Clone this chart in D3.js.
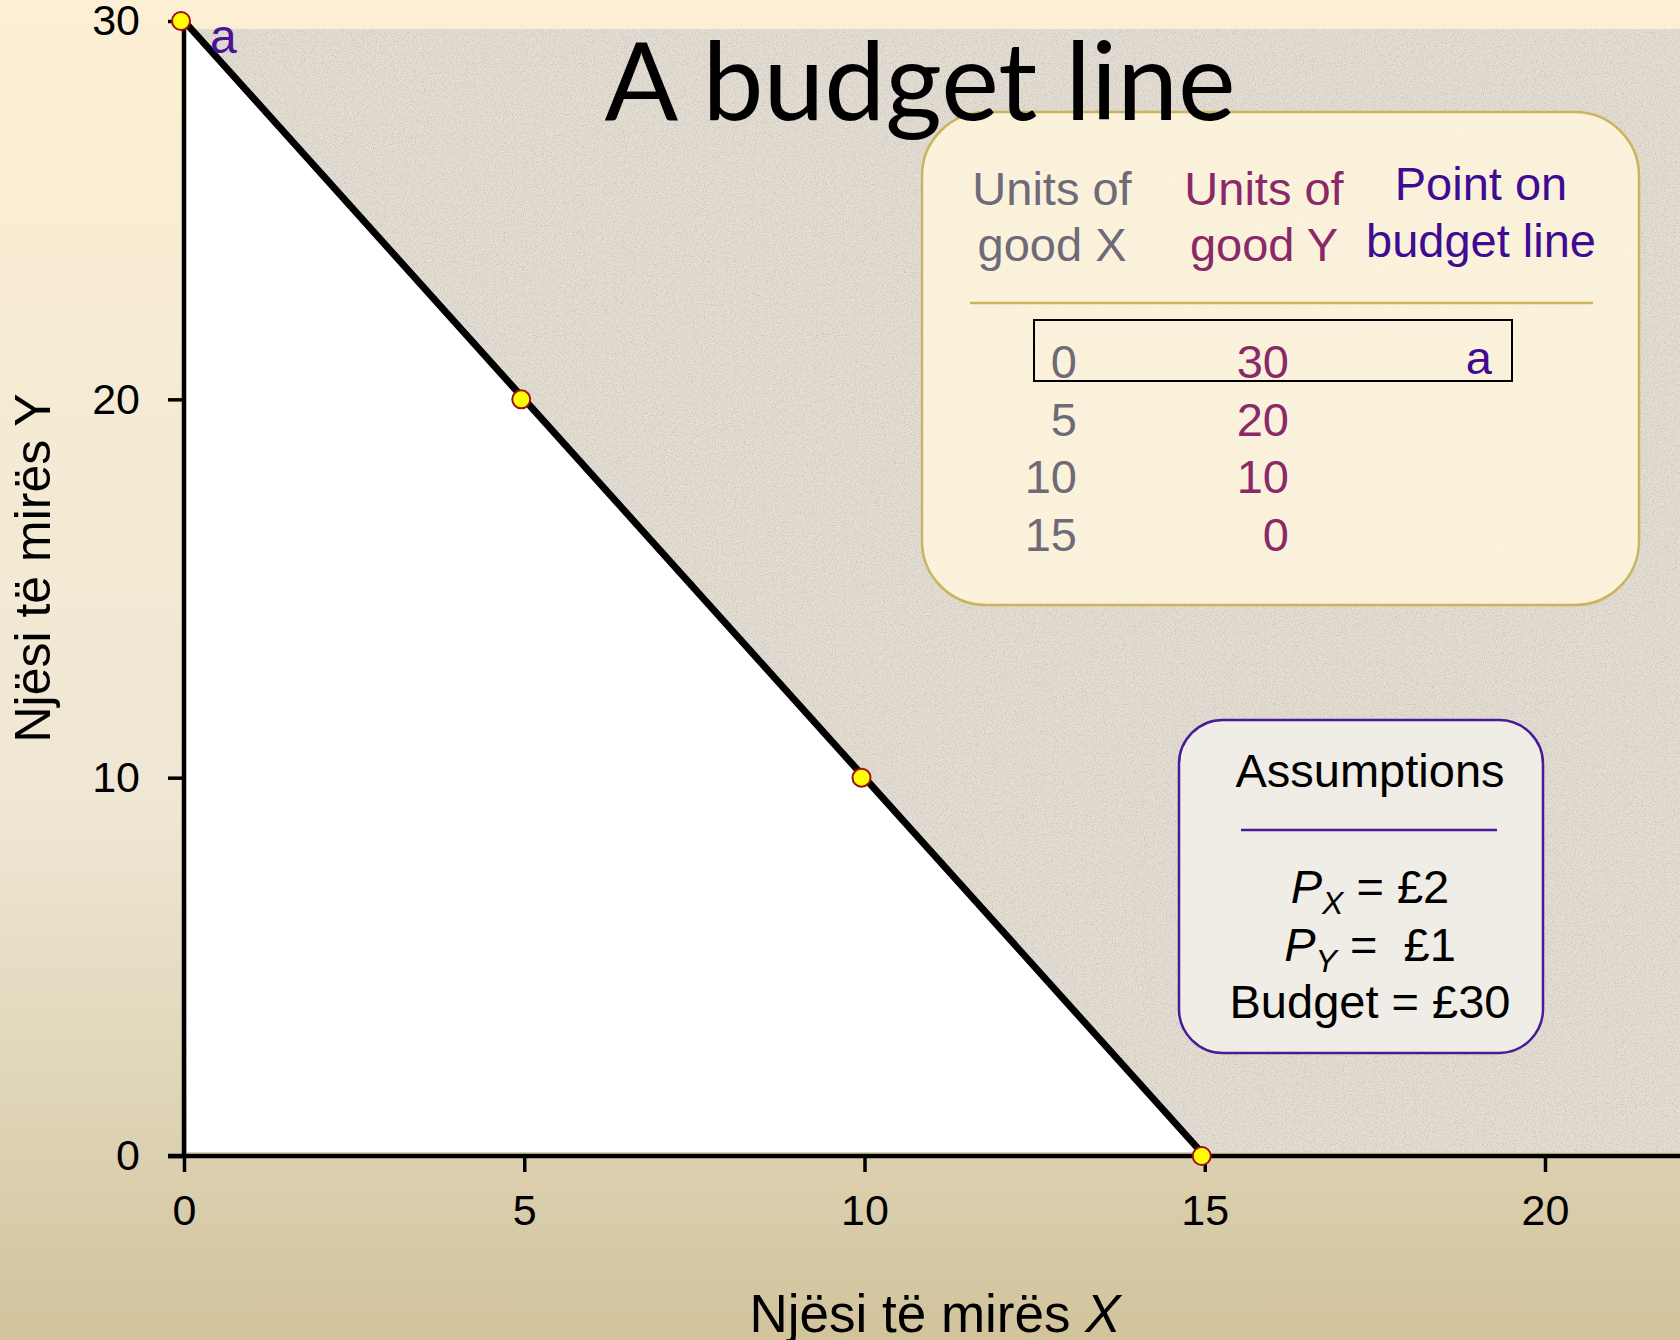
<!DOCTYPE html>
<html>
<head>
<meta charset="utf-8">
<script src="https://cdn.jsdelivr.net/npm/d3@7"></script>
<style>
  body { margin: 0; padding: 0; overflow: hidden; }
  svg { display: block; }
  text { font-family: "Liberation Sans", Arial, sans-serif; }
</style>
</head>
<body>
<div id="chart"></div>
<script>
// budget line data (units of X, units of Y)
var unitsX = [0, 5, 10, 15];
var unitsY = [30, 20, 10, 0];
var pointLabels = ["a", "", "", ""];
var xTicks = [0, 5, 10, 15, 20];
var yTicks = [0, 10, 20, 30];
var headers = [["Units of", "good X"], ["Units of", "good Y"], ["Point on", "budget line"]];
var assumptions = ["Budget = £30"];

var W = 1680, H = 1340;

var svg = d3.select("#chart").append("svg")
  .attr("width", W)
  .attr("height", H);

var defs = svg.append("defs");
var bg = defs.append("linearGradient").attr("id", "bg")
  .attr("x1", 0).attr("y1", 0).attr("x2", 0).attr("y2", 1);
bg.append("stop").attr("offset", "0").attr("stop-color", "#fcefd3");
bg.append("stop").attr("offset", "0.6").attr("stop-color", "#efe7d4");
bg.append("stop").attr("offset", "0.8").attr("stop-color", "#e0d6ba");
bg.append("stop").attr("offset", "1").attr("stop-color", "#d2c39c");

// paper texture for the plot area
var f = defs.append("filter").attr("id", "paper")
  .attr("x", 0).attr("y", 0).attr("width", 1).attr("height", 1);
f.append("feTurbulence").attr("type", "fractalNoise")
  .attr("baseFrequency", 0.9).attr("numOctaves", 2).attr("seed", 4).attr("result", "n");
f.append("feColorMatrix").attr("in", "n").attr("type", "matrix")
  .attr("values", "0 0 0 0 0.55  0 0 0 0 0.52  0 0 0 0 0.47  0 0 0 -2.2 1.25")
  .attr("result", "spots");
f.append("feFlood").attr("flood-color", "#e4ded4").attr("result", "base");
f.append("feComposite").attr("in", "spots").attr("in2", "base").attr("operator", "over");

svg.append("rect").attr("width", W).attr("height", H).attr("fill", "url(#bg)");

// scales
var x = d3.scaleLinear().domain([0, 20]).range([184, 1545]);
var y = d3.scaleLinear().domain([0, 30]).range([1156, 21]);

// plot area
svg.append("rect")
  .attr("x", x(0) + 2).attr("y", 29)
  .attr("width", W - x(0) - 2).attr("height", y(0) - 33)
  .attr("filter", "url(#paper)");

// affordable region under the line
var pts = unitsX.map(function (d, i) { return [x(d), y(unitsY[i])]; });
svg.append("path")
  .attr("d", d3.line()([[x(0) + 3, y(0) - 4]].concat(pts.map(function (p, i) {
    return i === pts.length - 1 ? [p[0], p[1] - 4] : p;
  }))) + "Z")
  .attr("fill", "#ffffff");

// axes
var xAxis = svg.append("g")
  .attr("transform", "translate(0," + y(0) + ")")
  .call(d3.axisBottom(x).tickValues(xTicks).tickSize(16).tickPadding(22));
xAxis.select(".domain").remove();
xAxis.selectAll("line").attr("stroke", "#000").attr("stroke-width", 3.5);
xAxis.selectAll("text").style("font-size", "43px").style("font-family", "'Liberation Sans', Arial, sans-serif").attr("fill", "#000");

var yAxis = svg.append("g")
  .attr("transform", "translate(" + x(0) + ",0)")
  .call(d3.axisLeft(y).tickValues(yTicks).tickSize(16).tickPadding(28));
yAxis.select(".domain").remove();
yAxis.selectAll("line").attr("stroke", "#000").attr("stroke-width", 3.5);
yAxis.selectAll("text").style("font-size", "43px").style("font-family", "'Liberation Sans', Arial, sans-serif").attr("fill", "#000");

svg.append("line")
  .attr("x1", x(0) - 16).attr("x2", W)
  .attr("y1", y(0)).attr("y2", y(0))
  .attr("stroke", "#000").attr("stroke-width", 4.5);
svg.append("line")
  .attr("x1", x(0)).attr("x2", x(0))
  .attr("y1", y(30)).attr("y2", y(0))
  .attr("stroke", "#000").attr("stroke-width", 4.5);

// axis titles
svg.append("text")
  .attr("transform", "translate(50,568) rotate(-90)")
  .attr("text-anchor", "middle")
  .style("font-size", "50px")
  .attr("fill", "#000")
  .text("Njësi të mirës Y");

var xl = svg.append("text")
  .attr("x", 935).attr("y", 1332)
  .attr("text-anchor", "middle")
  .style("font-size", "53px")
  .attr("fill", "#000");
xl.append("tspan").text("Njësi të mirës ");
xl.append("tspan").style("font-style", "italic").text("X");

// budget line
svg.append("path")
  .datum(unitsX.map(function (d, i) { return [d, unitsY[i]]; }))
  .attr("d", d3.line().x(function (d) { return x(d[0]); }).y(function (d) { return y(d[1]); }))
  .attr("fill", "none")
  .attr("stroke", "#000")
  .attr("stroke-width", 7);

svg.selectAll("circle.pt")
  .data(unitsX)
  .enter().append("circle")
  .attr("class", "pt")
  .attr("cx", function (d) { return x(d) - 3; })
  .attr("cy", function (d, i) { return y(unitsY[i]); })
  .attr("r", 9)
  .attr("fill", "#ffff00")
  .attr("stroke", "#a0101a")
  .attr("stroke-width", 2);

svg.append("text")
  .attr("x", 210).attr("y", 53)
  .style("font-size", "48px")
  .attr("fill", "#4b1296")
  .text(pointLabels[0]);

// table box
var tbl = svg.append("g");
tbl.append("rect")
  .attr("x", 922).attr("y", 112)
  .attr("width", 717).attr("height", 493)
  .attr("rx", 64).attr("ry", 64)
  .attr("fill", "#fdf3dc").attr("fill-opacity", 0.92)
  .attr("stroke", "#cbb45e").attr("stroke-width", 2.5);

var colColors = ["#6e6a78", "#8b2868", "#3f0b92"];
var colCenters = [1052, 1264, 1481];
var headBase = [[205, 261], [205, 261], [200, 257]];
headers.forEach(function (h, c) {
  h.forEach(function (line, k) {
    tbl.append("text")
      .attr("x", colCenters[c]).attr("y", headBase[c][k])
      .attr("text-anchor", "middle")
      .style("font-size", "47px")
      .attr("fill", colColors[c])
      .text(line);
  });
});

tbl.append("line")
  .attr("x1", 970).attr("x2", 1593)
  .attr("y1", 303).attr("y2", 303)
  .attr("stroke", "#cbb45e").attr("stroke-width", 2.5);

tbl.append("rect")
  .attr("x", 1034).attr("y", 320)
  .attr("width", 478).attr("height", 61)
  .attr("fill", "none").attr("stroke", "#000").attr("stroke-width", 2);

var rowY = d3.scalePoint().domain(d3.range(unitsX.length)).range([378, 551]);
tbl.selectAll("text.cx")
  .data(unitsX)
  .enter().append("text")
  .attr("class", "cx")
  .attr("x", 1077).attr("y", function (d, i) { return rowY(i); })
  .attr("text-anchor", "end")
  .style("font-size", "47px")
  .attr("fill", colColors[0])
  .text(function (d) { return d; });
tbl.selectAll("text.cy")
  .data(unitsY)
  .enter().append("text")
  .attr("class", "cy")
  .attr("x", 1289).attr("y", function (d, i) { return rowY(i); })
  .attr("text-anchor", "end")
  .style("font-size", "47px")
  .attr("fill", colColors[1])
  .text(function (d) { return d; });
tbl.selectAll("text.cl")
  .data(pointLabels)
  .enter().append("text")
  .attr("class", "cl")
  .attr("x", 1492).attr("y", function (d, i) { return rowY(i) - 4; })
  .attr("text-anchor", "end")
  .style("font-size", "47px")
  .attr("fill", colColors[2])
  .text(function (d) { return d; });

// title sits above the table box
svg.append("text")
  .attr("x", 920).attr("y", 120)
  .attr("text-anchor", "middle")
  .style("font-family", "Lato, 'Open Sans', sans-serif")
  .style("font-size", "109px")
  .attr("fill", "#000")
  .text("A budget line");

// assumptions box
var asm = svg.append("g");
asm.append("rect")
  .attr("x", 1179).attr("y", 720)
  .attr("width", 364).attr("height", 333)
  .attr("rx", 44).attr("ry", 44)
  .attr("fill", "#f0ece6")
  .attr("stroke", "#4b1a96").attr("stroke-width", 2.5);
asm.append("text")
  .attr("x", 1370).attr("y", 787)
  .attr("text-anchor", "middle")
  .style("font-size", "47px")
  .attr("fill", "#000")
  .text("Assumptions");
asm.append("line")
  .attr("x1", 1241).attr("x2", 1497)
  .attr("y1", 830).attr("y2", 830)
  .attr("stroke", "#4b1a96").attr("stroke-width", 2.5);

function priceLine(yPos, sub, rest) {
  var t = asm.append("text")
    .attr("x", 1370).attr("y", yPos)
    .attr("text-anchor", "middle")
    .style("font-size", "47px")
    .attr("fill", "#000");
  t.append("tspan").style("font-style", "italic").text("P");
  t.append("tspan").style("font-style", "italic").style("font-size", "32px").attr("dy", 11).text(sub);
  t.append("tspan").attr("dy", -11).text(rest);
}
priceLine(903, "X", " = £2");
priceLine(961, "Y", " =\u00a0 £1");
asm.append("text")
  .attr("x", 1370).attr("y", 1018)
  .attr("text-anchor", "middle")
  .style("font-size", "47px")
  .attr("fill", "#000")
  .text(assumptions[0]);
</script>
</body>
</html>
